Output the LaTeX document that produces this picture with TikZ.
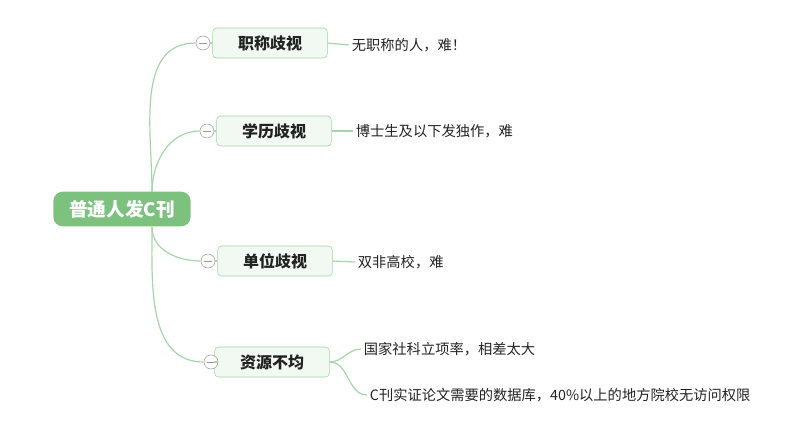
\documentclass[tikz,border=0pt]{standalone}
\usepackage{fontspec}
\setmainfont{Noto Sans CJK SC}
\usepackage{tikz}
\usetikzlibrary{positioning}
\definecolor{rootgreen}{RGB}{124, 193, 126}
\definecolor{linegreen}{RGB}{165, 214, 167}
\definecolor{boxfill}{RGB}{242, 249, 242}
\definecolor{boxline}{RGB}{160, 212, 160}
\definecolor{textdark}{RGB}{34, 34, 34}

\begin{document}
\begin{tikzpicture}[x=0.75pt, y=-0.75pt]
    \tikzstyle{rootbox} = [fill=rootgreen, draw=none, rounded corners=2.5mm, minimum width=103pt, minimum height=26pt, font=\fontsize{14}{16}\selectfont\bfseries, text=white]
    \tikzstyle{topic} = [fill=boxfill, draw=boxline, rounded corners=1mm, minimum width=86pt, minimum height=22.5pt, font=\fontsize{12}{14}\selectfont\bfseries, text=textdark]
    \tikzstyle{leaf} = [font=\fontsize{10.7}{12}\selectfont, text=textdark, anchor=west, inner sep=2pt]
    \tikzstyle{fold} = [circle, draw=gray!80, fill=white, minimum size=10.5pt, inner sep=0pt, path picture={\draw[gray!80] ([xshift=2pt]path picture bounding box.west) -- ([xshift=-2pt]path picture bounding box.east);}]
    \tikzstyle{link} = [linegreen, line width=0.9pt]

    \useasboundingbox (0,0) rectangle (790,428);

    \node[rootbox] (root) at (122, 209) {普通人发C刊};
    \coordinate (rtop) at (152, 192);
    \coordinate (rbot) at (152, 227);

    \node[topic] (t1) at (270, 43) {职称歧视};
    \node[topic] (t2) at (274, 131) {学历歧视};
    \node[topic] (t3) at (275, 261) {单位歧视};
    \node[topic] (t4) at (272, 362) {资源不均};

    \node[fold] (c1) at (203, 43) {};
    \node[fold] (c2) at (207, 131) {};
    \node[fold] (c3) at (208, 261) {};
    \node[fold] (c4) at (211, 362) {};

    \node[leaf] (l1) at (349, 45) {无职称的人，难！};
    \node[leaf] (l2) at (353, 131) {博士生及以下发独作，难};
    \node[leaf] (l3) at (355, 262) {双非高校，难};
    \node[leaf] (l4a) at (361, 349) {国家社科立项率，相差太大};
    \node[leaf] (l4b) at (367, 395) {C刊实证论文需要的数据库，40\%以上的地方院校无访问权限};

    % root to topics
    \draw[link] (rtop) to[out=90, in=180] (c1.west);
    \draw[link] (rtop) to[out=90, in=180] (c2.west);
    \draw[link] (rbot) to[out=-90, in=180] (c3.west);
    \draw[link] (rbot) to[out=-90, in=180] (c4.west);

    \draw[link] (c1) -- (t1);
    \draw[link] (c2) -- (t2);
    \draw[link] (c3) -- (t3);
    \draw[link] (c4) -- (t4);

    % topics to leaves
    \draw[link] (t1.east) -- (l1.west);
    \draw[link] (t2.east) -- (l2.west);
    \draw[link] (t3.east) -- (l3.west);
    \draw[link] (t4.east) to[out=0, in=180] (l4a.west);
    \draw[link] (t4.east) to[out=0, in=180] (l4b.west);
\end{tikzpicture}
\end{document}
